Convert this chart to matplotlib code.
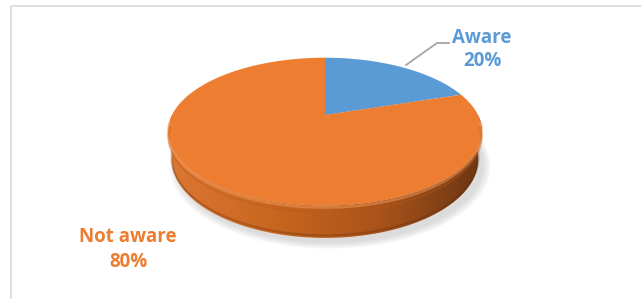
import numpy as np
import matplotlib
matplotlib.use("Agg")
import matplotlib.pyplot as plt
from matplotlib.patches import Polygon, Rectangle
from matplotlib.colors import LinearSegmentedColormap

labels = ["Aware", "Not aware"]
values = [20, 80]
colors = ["#5B9BD5", "#ED7D31"]

# pixel-space canvas
W, H = 641, 299
fig = plt.figure(figsize=(W / 100, H / 100), dpi=100)
ax = fig.add_axes([0, 0, 1, 1])
ax.set_xlim(0, W)
ax.set_ylim(H, 0)
ax.axis("off")

# 3d disc seen from above with a bit of perspective
cx, cy, S = 325, 115, 153
elev = np.radians(27.3)
ce, se = np.cos(elev), np.sin(elev)
D = 3.95
T = 0.206


def proj(theta, z=0.0):
    x, y = np.cos(theta), np.sin(theta)
    depth = y * ce - z * se
    v = y * se + z * ce
    k = D / (D + depth)
    return cx + S * x * k, cy - S * v * k


def rim(t0, t1, z=0.0, n=200):
    th = np.linspace(t0, t1, n)
    px, py = proj(th, z)
    return np.column_stack([px, py])


# soft shadow under the disc
for i in range(8):
    th = np.linspace(0, 2 * np.pi, 300)
    px, py = proj(th, -T)
    sx = cx + (px - cx) * (1 + 0.007 * i) + 5
    sy = cy + (py - cy) * (1 + 0.007 * i) + 5
    ax.add_patch(Polygon(np.column_stack([sx, sy]), closed=True,
                         facecolor="#808080", edgecolor="none", alpha=0.035, zorder=1))

# side wall (front half), shaded left to right
top = rim(0, -np.pi)
bot = rim(-np.pi, 0, -T)
side = Polygon(np.vstack([top, bot]), closed=True, facecolor="none", edgecolor="none", zorder=2)
ax.add_patch(side)
cmap = LinearSegmentedColormap.from_list("side", ["#dc7634", "#c8661f", "#a9531a", "#6a3512"])
grad = np.linspace(0, 1, 256).reshape(1, -1)
x0, x1 = proj(np.pi)[0] - 2, proj(-0.2)[0] + 2
im = ax.imshow(grad, cmap=cmap, extent=[x0, x1, 250, 100], aspect="auto", zorder=2)
im.set_clip_path(side)
ax.set_xlim(0, W)
ax.set_ylim(H, 0)

# darker band along the bottom of the wall
ax.plot(*rim(-np.pi * 0.98, -np.pi * 0.02, -T * 0.92).T, color="#5a2c0c", lw=1.5, alpha=0.3, zorder=3)

# top face slices, clockwise from 12 o'clock
start = np.pi / 2
fracs = np.array(values) / sum(values)
mids = []
for frac, col in zip(fracs, colors):
    end = start - frac * 2 * np.pi
    pts = np.vstack([[cx, cy], rim(start, end)])
    ax.add_patch(Polygon(pts, closed=True, facecolor=col, edgecolor="none", zorder=4))
    mids.append((start + end) / 2)
    start = end

# bevel highlight on the front rim
ax.plot(*rim(-np.pi * 0.97, -np.pi * 0.03, -0.012).T, color="#f59a5a", lw=2.0, alpha=0.5, zorder=5)
ax.plot(*rim(-np.pi * 0.97, -np.pi * 0.03, -0.04).T, color="#b9591c", lw=1.5, alpha=0.35, zorder=5)

# labels
font = dict(family=["Open Sans", "DejaVu Sans"], fontsize=13.5, fontweight="bold", ha="center", va="center")
lx, ly = proj(mids[0])
ax.plot([lx + 5, 437, 449], [ly - 2, 43, 43], color="#a6a6a6", lw=1.3, zorder=6)
ax.text(482, 38, labels[0], color=colors[0], **font)
ax.text(482, 61, f"{values[0]}%", color=colors[0], **font)
ax.text(128, 237, labels[1], color=colors[1], **font)
ax.text(128, 262, f"{values[1]}%", color=colors[1], **font)

# chart area border
ax.add_patch(Rectangle((11, 6), W, H, facecolor="none", edgecolor="#d9d9d9", lw=1.2, zorder=0))

fig.savefig("out.png", dpi=100)
